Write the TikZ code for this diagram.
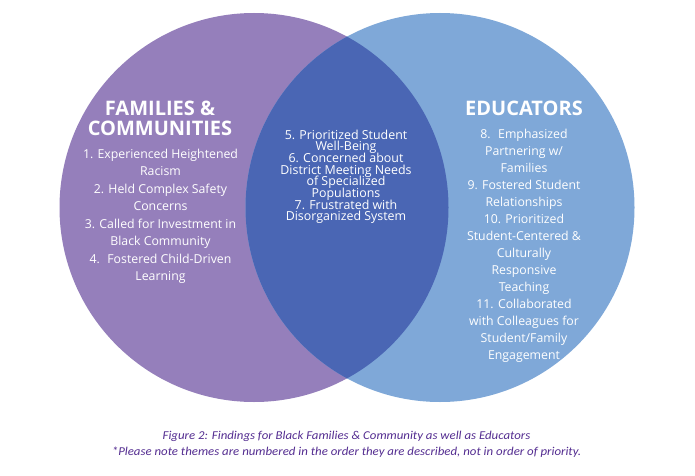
\documentclass[tikz,border=0pt]{standalone}
\usepackage{fontspec}
\setmainfont{Open Sans}
\newfontfamily\capfont[FakeStretch=1.07]{Carlito}
\definecolor{famcol}{RGB}{149,127,187}
\definecolor{educol}{RGB}{127,168,216}
\definecolor{bothcol}{RGB}{74,102,180}
\definecolor{capcol}{RGB}{84,45,145}
\newcommand\myctrstack[2]{\vtop{\baselineskip=#1\lineskiplimit=-20pt\lineskip=0pt\halign{\hfil##\hfil\cr #2\crcr}}}
\tikzset{
  headtxt/.style={inner sep=0pt, anchor=base, text=white, font=\bfseries\fontsize{20}{20}\selectfont},
  bodytxt/.style={inner sep=0pt, anchor=base, text=white},
  captxt/.style={inner sep=0pt, anchor=base, text=capcol}
}
\begin{document}
\begin{tikzpicture}[x=1pt,y=1pt]
\useasboundingbox (0,0) rectangle (695,475);
\fill[white] (0,0) rectangle (695,475);
% circles
\fill[famcol] (254,267.5) circle (194.5);
\fill[educol] (440,267.5) circle (194.5);
\begin{scope}
  \clip (254,267.5) circle (194.5);
  \fill[bothcol] (440,267.5) circle (194.5);
\end{scope}
% headings
\node[headtxt] (famhead) at (160,360) {\myctrstack{20pt}{FAMILIES \&\cr COMMUNITIES}};
\node[headtxt] (eduhead) at (524,360) {EDUCATORS};
% left body
\node[bodytxt, font=\fontsize{12.3}{17.5}\selectfont] (fambody) at (160.5,316.7) {\myctrstack{17.5pt}{%
1. Experienced Heightened\cr
Racism\cr
2. Held Complex Safety\cr
Concerns\cr
3. Called for Investment in\cr
Black Community\cr
4.~ Fostered Child-Driven\cr
Learning}};
% middle body
\node[bodytxt, font=\fontsize{12.4}{11.67}\selectfont] (bothbody) at (346,336) {\myctrstack{11.67pt}{%
5. Prioritized Student\cr
Well-Being\cr
6. Concerned about\cr
District Meeting Needs\cr
of Specialized\cr
Populations\cr
7. Frustrated with\cr
Disorganized System}};
% right body
\node[bodytxt, font=\fontsize{12.3}{17}\selectfont] (edubody) at (524,336.7) {\myctrstack{17pt}{%
8.~ Emphasized\cr
Partnering w/\cr
Families\cr
9. Fostered Student\cr
Relationships\cr
10. Prioritized\cr
Student-Centered \&\cr
Culturally\cr
Responsive\cr
Teaching\cr
11. Collaborated\cr
with Colleagues for\cr
Student/Family\cr
Engagement}};
% caption
\node[captxt, font=\capfont\itshape\fontsize{12}{16.7}\selectfont] (caption) at (346.5,36) {\myctrstack{16.7pt}{%
Figure 2: Findings for Black Families \& Community as well as Educators\cr
*Please note themes are numbered in the order they are described, not in order of priority.}};
\end{tikzpicture}
\end{document}
